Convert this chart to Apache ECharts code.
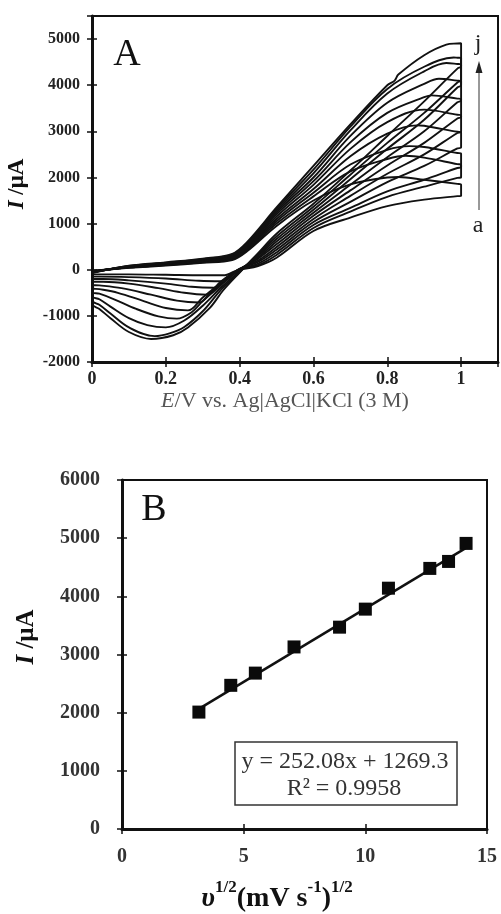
<!DOCTYPE html>
<html>
<head>
<meta charset="utf-8">
<script src="https://cdn.jsdelivr.net/npm/echarts@6/dist/echarts.min.js"></script>
<style>html,body{margin:0;padding:0;background:#fff}#c{width:501px;height:914px}</style>
</head>
<body>
<div id="c"></div>
<script>
// ---------- Panel A : cyclic voltammograms (E / V, I / µA) ----------
const potentialTicksA = [0, 0.2, 0.4, 0.6, 0.8, 1];
const currentTicksA = [-2000, -1000, 0, 1000, 2000, 3000, 4000, 5000];
const scanLabels = ['a','b','c','d','e','f','g','h','i','j'];

const fwdA = [[0,-20],[0.1,40],[0.2,90],[0.3,150],[0.38,210],[0.42,400],[0.5,950],[0.6,1500],[0.7,1850],[0.8,2000],[0.83,2010],[0.9,1950],[0.99,1860],[1.0,1850]];
const revA = [[1.0,1600],[0.99,1595],[0.9,1520],[0.8,1380],[0.7,1130],[0.6,840],[0.5,260],[0.45,80],[0.4,0],[0.38,-60],[0.36,-120],[0.3,-120],[0.2,-110],[0.1,-100],[0.02,-100],[0,-100]];
const fwdB = [[0,-30],[0.1,45],[0.2,100],[0.3,160],[0.38,225],[0.42,420],[0.5,1000],[0.6,1590],[0.7,2130],[0.8,2400],[0.85,2470],[0.9,2430],[0.99,2290],[1.0,2280]];
const revB = [[1.0,2000],[0.99,1990],[0.9,1800],[0.8,1580],[0.7,1260],[0.6,905],[0.5,320],[0.45,100],[0.4,10],[0.38,-100],[0.35,-250],[0.29,-240],[0.2,-190],[0.1,-160],[0.02,-150],[0,-150]];
const fwdC = [[0,-30],[0.1,50],[0.2,105],[0.3,170],[0.38,240],[0.42,440],[0.5,1050],[0.6,1670],[0.7,2280],[0.8,2600],[0.86,2680],[0.9,2660],[0.99,2530],[1.0,2520]];
const revC = [[1.0,2220],[0.99,2205],[0.9,1950],[0.8,1700],[0.7,1340],[0.6,970],[0.5,375],[0.45,130],[0.4,10],[0.37,-150],[0.33,-390],[0.27,-370],[0.2,-300],[0.1,-230],[0.03,-200],[0,-200]];
const fwdD = [[0,-40],[0.1,55],[0.2,115],[0.3,180],[0.38,255],[0.42,460],[0.5,1100],[0.6,1750],[0.7,2460],[0.8,2950],[0.88,3130],[0.9,3120],[0.99,2990],[1.0,2980]];
const revD = [[1.0,2650],[0.99,2630],[0.9,2250],[0.8,1900],[0.7,1470],[0.6,1035],[0.5,435],[0.45,170],[0.4,20],[0.36,-200],[0.31,-540],[0.25,-500],[0.18,-400],[0.1,-300],[0.03,-260],[0,-260]];
const fwdE = [[0,-40],[0.1,60],[0.2,120],[0.3,190],[0.38,270],[0.42,480],[0.5,1150],[0.6,1840],[0.7,2620],[0.8,3200],[0.9,3470],[0.99,3360],[1.0,3350]];
const revE = [[1.0,2990],[0.99,2965],[0.9,2500],[0.8,2080],[0.7,1600],[0.6,1100],[0.5,490],[0.45,200],[0.4,20],[0.35,-250],[0.32,-500],[0.29,-710],[0.23,-670],[0.16,-540],[0.08,-400],[0.02,-340],[0,-330]];
const fwdF = [[0,-50],[0.1,65],[0.2,130],[0.3,200],[0.38,285],[0.42,500],[0.5,1200],[0.6,1920],[0.7,2760],[0.8,3400],[0.9,3740],[0.92,3780],[0.99,3710],[1.0,3700]];
const revF = [[1.0,3310],[0.99,3280],[0.9,2750],[0.8,2260],[0.7,1720],[0.6,1170],[0.5,550],[0.45,240],[0.4,10],[0.35,-280],[0.3,-600],[0.26,-880],[0.2,-830],[0.14,-680],[0.07,-500],[0.02,-420],[0,-400]];
const fwdG = [[0,-50],[0.1,70],[0.2,135],[0.3,210],[0.38,300],[0.42,520],[0.5,1240],[0.6,2000],[0.7,2900],[0.8,3620],[0.9,4030],[0.94,4140],[0.99,4100],[1.0,4090]];
const revG = [[1.0,3670],[0.99,3630],[0.9,3000],[0.8,2440],[0.7,1840],[0.6,1235],[0.5,610],[0.45,270],[0.4,0],[0.35,-330],[0.3,-680],[0.27,-920],[0.23,-1060],[0.18,-1010],[0.12,-850],[0.06,-640],[0.02,-520],[0,-480]];
const fwdH = [[0,-60],[0.1,75],[0.2,145],[0.3,220],[0.38,315],[0.42,540],[0.5,1280],[0.6,2090],[0.7,3020],[0.8,3820],[0.9,4300],[0.96,4480],[0.99,4460],[1.0,4450]];
const revH = [[1.0,4000],[0.99,3950],[0.9,3250],[0.8,2620],[0.7,1960],[0.6,1300],[0.5,665],[0.45,300],[0.4,-30],[0.35,-380],[0.3,-780],[0.25,-1100],[0.2,-1250],[0.15,-1200],[0.1,-1050],[0.05,-800],[0.02,-640],[0,-570]];
const fwdI = [[0,-60],[0.1,80],[0.2,150],[0.3,230],[0.38,330],[0.42,570],[0.5,1320],[0.6,2170],[0.7,3100],[0.8,3920],[0.9,4400],[0.98,4600],[0.99,4595],[1.0,4590]];
const revI = [[1.0,4110],[0.99,4060],[0.9,3400],[0.8,2750],[0.7,2060],[0.6,1365],[0.5,720],[0.45,330],[0.4,-50],[0.35,-430],[0.3,-900],[0.25,-1240],[0.21,-1380],[0.17,-1440],[0.1,-1250],[0.05,-950],[0.02,-760],[0,-660]];
const fwdJ = [[0,-70],[0.1,85],[0.2,160],[0.3,240],[0.38,345],[0.42,600],[0.5,1350],[0.6,2250],[0.7,3150],[0.8,4000],[0.82,4100],[0.83,4230],[0.9,4650],[0.96,4880],[0.99,4905],[1.0,4910]];
const revJ = [[1.0,4410],[0.99,4360],[0.9,3650],[0.8,2900],[0.7,2150],[0.6,1430],[0.5,780],[0.45,360],[0.4,-60],[0.355,-450],[0.32,-820],[0.26,-1250],[0.22,-1420],[0.16,-1500],[0.1,-1350],[0.05,-1050],[0.02,-850],[0,-740]];

// ---------- Panel B : peak current vs sqrt(scan rate) ----------
const sqrtScanRate = [3.16, 4.47, 5.48, 7.07, 8.94, 10.0, 10.95, 12.65, 13.42, 14.14];
const peakCurrent  = [2010, 2470, 2680, 3130, 3470, 3780, 4140, 4480, 4600, 4910];
const fitSlope = 252.08;
const fitIntercept = 1269.3;
const fitR2 = 0.9958;
const xTicksB = [0, 5, 10, 15];
const yTicksB = [0, 1000, 2000, 3000, 4000, 5000, 6000];

const SERIF = '"Liberation Serif", "Times New Roman", serif';
const INK = '#111';

const cvPairs = [[fwdA,revA],[fwdB,revB],[fwdC,revC],[fwdD,revD],[fwdE,revE],[fwdF,revF],[fwdG,revG],[fwdH,revH],[fwdI,revI],[fwdJ,revJ]];

const cvSeries = cvPairs.map(([f, r], i) => ({
  name: 'CV ' + scanLabels[i],
  type: 'line', xAxisIndex: 0, yAxisIndex: 0,
  data: f.concat(r, [f[0]]),
  smooth: 0.35, symbol: 'none', silent: true,
  lineStyle: { color: INK, width: 1.9 }
}));

const xs = sqrtScanRate;
const xMin = Math.min(...xs), xMax = Math.max(...xs);
const fitLine = [[xMin, fitSlope * xMin + fitIntercept], [xMax, fitSlope * xMax + fitIntercept]];

function mainAxis(grid, min, max, interval, fontSize, margin, fmt, color) {
  return {
    type: 'value', gridIndex: grid, min, max, interval,
    axisLine: { show: true, onZero: false, lineStyle: { color: INK, width: 3 } },
    axisTick: { show: true, inside: false, length: 5, lineStyle: { color: INK, width: 1.5 } },
    splitLine: { show: false },
    axisLabel: { show: true, fontFamily: SERIF, fontWeight: 'bold', fontSize, color, margin, formatter: fmt }
  };
}
function innerTickAxis(grid, min, max, interval) {
  return {
    type: 'value', gridIndex: grid, min, max, interval,
    axisLine: { show: false, onZero: false },
    axisTick: { show: true, inside: true, length: 5, lineStyle: { color: INK, width: 1.5 } },
    splitLine: { show: false },
    axisLabel: { show: false }
  };
}

const fmtXA = v => (v > potentialTicksA[potentialTicksA.length - 1] + 0.05 ? '' : String(+v.toFixed(1)));
const fmtYA = v => (v > currentTicksA[currentTicksA.length - 1] ? '' : String(v));
const fmtB = v => String(v);

const xA = mainAxis(0, 0, 1.1, 0.2, 18, 8, fmtXA, '#222'); xA.position = 'bottom';
const xA2 = innerTickAxis(0, 0, 1.1, 0.2); xA2.position = 'bottom';
const yA = mainAxis(0, -2000, 5500, 1000, 16, 12, fmtYA, '#222'); yA.position = 'left';
const yA2 = innerTickAxis(0, -2000, 5500, 1000); yA2.position = 'left';
const xB = mainAxis(1, 0, 15, 5, 20, 18, fmtB, '#333'); xB.position = 'bottom';
const xB2 = innerTickAxis(1, 0, 15, 5); xB2.position = 'bottom';
const yB = mainAxis(1, 0, 6000, 1000, 20, 22, fmtB, '#333'); yB.position = 'left';
const yB2 = innerTickAxis(1, 0, 6000, 1000); yB2.position = 'left';

function txt(x, y, text, font, fill, extra) {
  return Object.assign({
    type: 'text', x, y, silent: true, z: 10,
    style: { text, font, fill, align: 'center', verticalAlign: 'middle', textAlign: 'center', textVerticalAlign: 'middle' }
  }, extra || {});
}

const chart = echarts.init(document.getElementById('c'), null, { renderer: 'canvas', width: 501, height: 914 });
chart.setOption({
  animation: false,
  backgroundColor: '#fff',
  grid: [
    { left: 92, top: 16, width: 408, height: 346, show: true, borderColor: INK, borderWidth: 2, backgroundColor: 'transparent' },
    { left: 122, top: 480, width: 365, height: 349, show: true, borderColor: INK, borderWidth: 2, backgroundColor: 'transparent' }
  ],
  xAxis: [xA, xA2, xB, xB2],
  yAxis: [yA, yA2, yB, yB2],
  series: cvSeries.concat([
    { name: 'Linear fit', type: 'line', xAxisIndex: 2, yAxisIndex: 2, data: fitLine, symbol: 'none', silent: true,
      lineStyle: { color: INK, width: 2.5 }, z: 2 },
    { name: 'Ipa', type: 'scatter', xAxisIndex: 2, yAxisIndex: 2, data: sqrtScanRate.map((x, i) => [x, peakCurrent[i]]),
      symbol: 'rect', symbolSize: 13, itemStyle: { color: '#0a0a0a', opacity: 1 }, z: 3, silent: true }
  ]),
  graphic: [
    txt(127, 55, 'A', '38px ' + SERIF, INK),
    txt(478, 44, 'j', '24px ' + SERIF, '#222'),
    txt(478, 226, 'a', '24px ' + SERIF, '#222'),
    { type: 'line', silent: true, z: 10, shape: { x1: 479, y1: 210, x2: 479, y2: 70 }, style: { stroke: '#333', lineWidth: 1 } },
    { type: 'polygon', silent: true, z: 10, shape: { points: [[479, 61], [475.5, 73], [482.5, 73]] }, style: { fill: '#222' } },
    { type: 'text', x: 17, y: 184, rotation: Math.PI / 2, silent: true, z: 10,
      style: { text: '{bi|I}{b| /μA}', align: 'center', verticalAlign: 'middle', textAlign: 'center', textVerticalAlign: 'middle',
        rich: { bi: { fontFamily: SERIF, fontSize: 23, fontWeight: 'bold', fontStyle: 'italic', fill: INK },
                b: { fontFamily: SERIF, fontSize: 23, fontWeight: 'bold', fill: INK } } } },
    { type: 'text', x: 285, y: 401, silent: true, z: 10,
      style: { text: '{i|E}{r|/V vs. Ag|AgCl|KCl (3 M)}', align: 'center', verticalAlign: 'middle', textAlign: 'center', textVerticalAlign: 'middle',
        rich: { i: { fontFamily: SERIF, fontSize: 22, fontStyle: 'italic', fill: '#555' },
                r: { fontFamily: SERIF, fontSize: 22, fill: '#555' } } } },
    txt(154, 510, 'B', '38px ' + SERIF, INK),
    { type: 'rect', silent: true, z: 9, shape: { x: 235, y: 742, width: 222, height: 63 }, style: { fill: '#fff', stroke: '#333', lineWidth: 1.5 } },
    txt(345, 762, 'y = ' + fitSlope.toFixed(2) + 'x + ' + fitIntercept.toFixed(1), '24px ' + SERIF, '#333'),
    txt(344, 789, 'R² = ' + fitR2.toFixed(4), '24px ' + SERIF, '#333'),
    { type: 'text', x: 27, y: 637, rotation: Math.PI / 2, silent: true, z: 10,
      style: { text: '{bi|I}{b| /μA}', align: 'center', verticalAlign: 'middle', textAlign: 'center', textVerticalAlign: 'middle',
        rich: { bi: { fontFamily: SERIF, fontSize: 25, fontWeight: 'bold', fontStyle: 'italic', fill: INK },
                b: { fontFamily: SERIF, fontSize: 25, fontWeight: 'bold', fill: INK } } } },
    { type: 'text', x: 277, y: 896, silent: true, z: 10,
      style: { text: '{i|υ}{s|1/2}{b|(mV s}{s|-1}{b|)}{s|1/2}', align: 'center', verticalAlign: 'middle', textAlign: 'center', textVerticalAlign: 'middle',
        rich: { i: { fontFamily: SERIF, fontSize: 28, fontWeight: 'bold', fontStyle: 'italic', fill: INK, lineHeight: 34, verticalAlign: 'bottom' },
                b: { fontFamily: SERIF, fontSize: 28, fontWeight: 'bold', fill: INK, lineHeight: 34, verticalAlign: 'bottom' },
                s: { fontFamily: SERIF, fontSize: 17, fontWeight: 'bold', fill: INK, verticalAlign: 'top' } } } }
  ]
});
</script>
</body>
</html>
